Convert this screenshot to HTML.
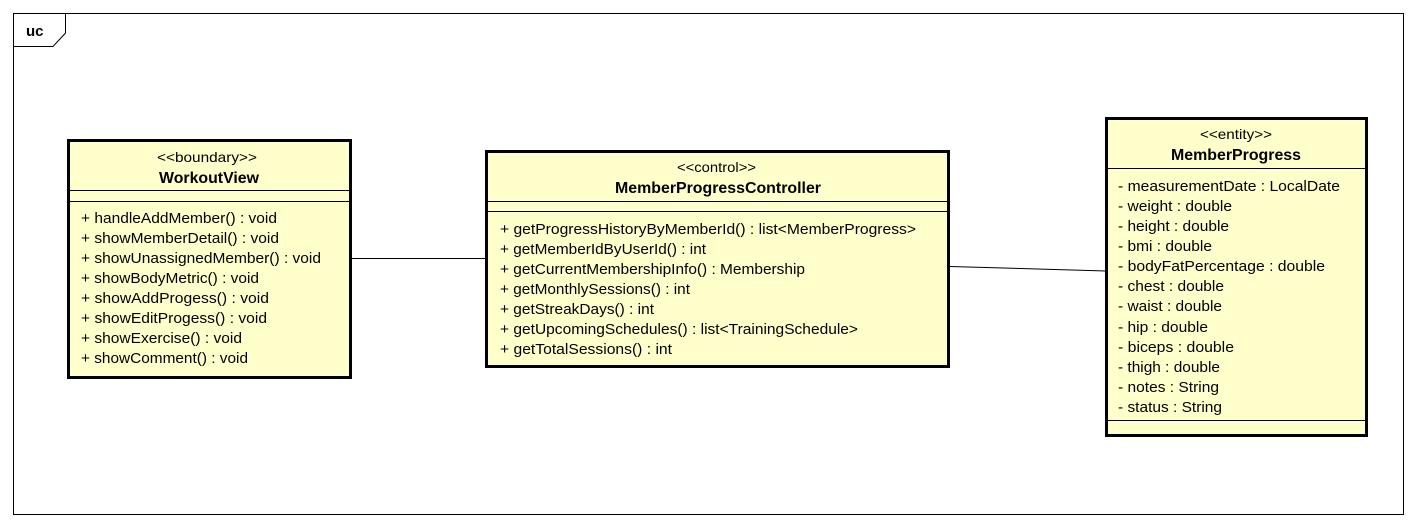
<!DOCTYPE html>
<html><head><meta charset="utf-8"><style>
html,body{margin:0;padding:0;background:#fff;}
svg{display:block;}
text{font-family:"Liberation Sans",Arial,sans-serif;fill:#000;}
.s{font-size:14px;}
.n{font-size:16px;font-weight:bold;}
.m{font-size:15px;}
</style></head><body>
<svg width="1416" height="528" viewBox="0 0 1416 528" xmlns="http://www.w3.org/2000/svg">
<rect x="13.5" y="13.5" width="1390" height="501" fill="#fff" stroke="#000" stroke-width="1"/>
<path d="M13.5 46.5 H53 L65.5 33 V13.5" fill="none" stroke="#000"/>
<text x="26" y="36" style="font-size:15px;font-weight:bold">uc</text>

<line x1="351" y1="258.5" x2="486" y2="258.5" stroke="#000"/>
<line x1="950" y1="266.5" x2="1106" y2="271" stroke="#000"/>

<!-- WorkoutView -->
<rect x="68.5" y="140.5" width="282" height="237" fill="#ffffcc" stroke="#000" stroke-width="3"/>
<line x1="68" y1="190.5" x2="350" y2="190.5" stroke="#000"/>
<line x1="68" y1="201.5" x2="350" y2="201.5" stroke="#000"/>
<text class="s" x="157" y="162" textLength="100" lengthAdjust="spacingAndGlyphs">&lt;&lt;boundary&gt;&gt;</text>
<text class="n" x="159" y="183" textLength="100" lengthAdjust="spacingAndGlyphs">WorkoutView</text>
<text class="m" x="81" y="223" textLength="196" lengthAdjust="spacingAndGlyphs">+ handleAddMember() : void</text>
<text class="m" x="81" y="243" textLength="198" lengthAdjust="spacingAndGlyphs">+ showMemberDetail() : void</text>
<text class="m" x="81" y="263" textLength="240" lengthAdjust="spacingAndGlyphs">+ showUnassignedMember() : void</text>
<text class="m" x="81" y="283" textLength="178" lengthAdjust="spacingAndGlyphs">+ showBodyMetric() : void</text>
<text class="m" x="81" y="303" textLength="188" lengthAdjust="spacingAndGlyphs">+ showAddProgess() : void</text>
<text class="m" x="81" y="323" textLength="186" lengthAdjust="spacingAndGlyphs">+ showEditProgess() : void</text>
<text class="m" x="81" y="343" textLength="161" lengthAdjust="spacingAndGlyphs">+ showExercise() : void</text>
<text class="m" x="81" y="363" textLength="167" lengthAdjust="spacingAndGlyphs">+ showComment() : void</text>

<!-- Controller -->
<rect x="486.5" y="151.5" width="462" height="215" fill="#ffffcc" stroke="#000" stroke-width="3"/>
<line x1="486" y1="201.5" x2="948" y2="201.5" stroke="#000"/>
<line x1="486" y1="211.5" x2="948" y2="211.5" stroke="#000"/>
<text class="s" x="677" y="172" textLength="79" lengthAdjust="spacingAndGlyphs">&lt;&lt;control&gt;&gt;</text>
<text class="n" x="615" y="193" textLength="206" lengthAdjust="spacingAndGlyphs">MemberProgressController</text>
<text class="m" x="500" y="234" textLength="416" lengthAdjust="spacingAndGlyphs">+ getProgressHistoryByMemberId() : list&lt;MemberProgress&gt;</text>
<text class="m" x="500" y="254" textLength="206" lengthAdjust="spacingAndGlyphs">+ getMemberIdByUserId() : int</text>
<text class="m" x="500" y="274" textLength="305" lengthAdjust="spacingAndGlyphs">+ getCurrentMembershipInfo() : Membership</text>
<text class="m" x="500" y="294" textLength="190" lengthAdjust="spacingAndGlyphs">+ getMonthlySessions() : int</text>
<text class="m" x="500" y="314" textLength="154" lengthAdjust="spacingAndGlyphs">+ getStreakDays() : int</text>
<text class="m" x="500" y="334" textLength="358" lengthAdjust="spacingAndGlyphs">+ getUpcomingSchedules() : list&lt;TrainingSchedule&gt;</text>
<text class="m" x="500" y="354" textLength="172" lengthAdjust="spacingAndGlyphs">+ getTotalSessions() : int</text>

<!-- Entity -->
<rect x="1106.5" y="118.5" width="260" height="317" fill="#ffffcc" stroke="#000" stroke-width="3"/>
<line x1="1106" y1="168.5" x2="1366" y2="168.5" stroke="#000"/>
<line x1="1106" y1="420.5" x2="1366" y2="420.5" stroke="#000"/>
<text class="s" x="1200" y="139" textLength="72" lengthAdjust="spacingAndGlyphs">&lt;&lt;entity&gt;&gt;</text>
<text class="n" x="1171" y="160" textLength="130" lengthAdjust="spacingAndGlyphs">MemberProgress</text>
<text class="m" x="1118" y="191" textLength="222" lengthAdjust="spacingAndGlyphs">- measurementDate : LocalDate</text>
<text class="m" x="1118" y="211" textLength="114" lengthAdjust="spacingAndGlyphs">- weight : double</text>
<text class="m" x="1118" y="231" textLength="111" lengthAdjust="spacingAndGlyphs">- height : double</text>
<text class="m" x="1118" y="251" textLength="94" lengthAdjust="spacingAndGlyphs">- bmi : double</text>
<text class="m" x="1118" y="271" textLength="207" lengthAdjust="spacingAndGlyphs">- bodyFatPercentage : double</text>
<text class="m" x="1118" y="291" textLength="106" lengthAdjust="spacingAndGlyphs">- chest : double</text>
<text class="m" x="1118" y="311" textLength="104" lengthAdjust="spacingAndGlyphs">- waist : double</text>
<text class="m" x="1118" y="332" textLength="90" lengthAdjust="spacingAndGlyphs">- hip : double</text>
<text class="m" x="1118" y="352" textLength="116" lengthAdjust="spacingAndGlyphs">- biceps : double</text>
<text class="m" x="1118" y="372" textLength="102" lengthAdjust="spacingAndGlyphs">- thigh : double</text>
<text class="m" x="1118" y="392" textLength="101" lengthAdjust="spacingAndGlyphs">- notes : String</text>
<text class="m" x="1118" y="412" textLength="104" lengthAdjust="spacingAndGlyphs">- status : String</text>
</svg>
</body></html>
